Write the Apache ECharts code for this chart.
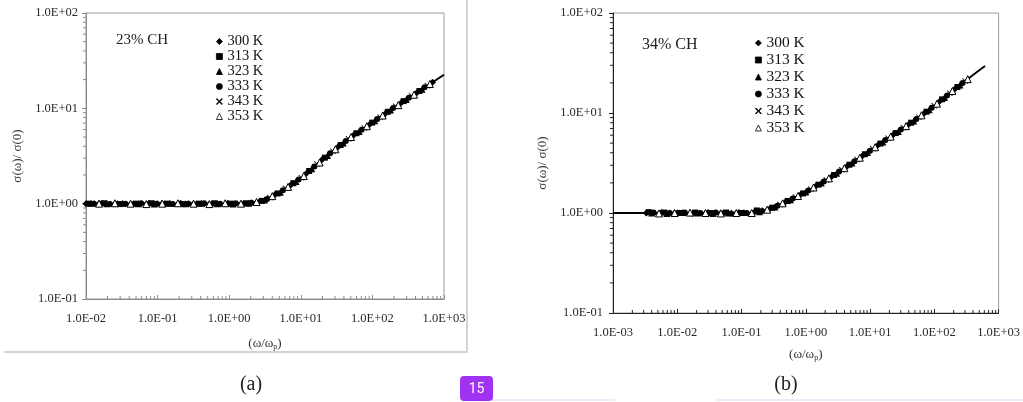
<!DOCTYPE html>
<html>
<head>
<meta charset="utf-8">
<script src="https://cdn.jsdelivr.net/npm/echarts@6.0.0/dist/echarts.min.js"></script>
<style>
  html, body { margin: 0; padding: 0; background: #fff; }
  #chart { width: 1023px; height: 402px; }
</style>
</head>
<body>
<div id="chart"></div>
<script>
// legend names (temperatures)
const tempNames = ['300 K', '313 K', '323 K', '333 K', '343 K', '353 K']

// panel (a): 23% CH, points [ω/ωp, σ(ω)/σ(0)]
const a300 = [[0.0100, 1.00], [0.0166, 1.01], [0.0275, 1.00], [0.0457, 0.99], [0.0759, 1.01], [0.126, 1.00], [0.209, 1.01], [0.347, 0.99], [0.575, 1.00], [0.955, 1.01], [1.58, 1.00], [2.63, 1.05], [4.37, 1.25], [7.24, 1.57], [12.0, 2.08], [19.9, 2.9], [33.1, 3.92], [55.0, 5.25], [91.2, 6.78], [151, 8.8], [251, 11.4], [417, 14.6], [692, 18.8]]
const a313 = [[0.0109, 1.00], [0.0181, 1.01], [0.0299, 0.99], [0.0498, 1.00], [0.0827, 1.01], [0.137, 1.00], [0.228, 0.99], [0.378, 1.00], [0.626, 1.01], [1.04, 1.00], [1.72, 1.01], [2.86, 1.07], [4.76, 1.28], [7.88, 1.64], [13.1, 2.2], [21.7, 3.04], [36.0, 4.12], [59.9, 5.48], [99.3, 7.08], [164, 9.2], [273, 11.9], [454, 15.2]]
const a323 = [[0.0118, 1.01], [0.0196, 1.00], [0.0325, 1.01], [0.0541, 1.00], [0.0898, 0.99], [0.149, 1.01], [0.247, 1.00], [0.411, 1.01], [0.680, 1.00], [1.13, 0.99], [1.87, 1.01], [3.11, 1.09], [5.17, 1.32], [8.57, 1.71], [14.2, 2.32], [23.6, 3.2], [39.2, 4.33], [65.1, 5.71], [108, 7.39], [179, 9.62], [297, 12.4], [493, 15.9]]
const a333 = [[0.0129, 1.00], [0.0214, 0.99], [0.0354, 1.00], [0.0589, 1.01], [0.0978, 1.00], [0.162, 0.99], [0.269, 1.00], [0.447, 1.01], [0.741, 1.00], [1.23, 1.01], [2.04, 1.02], [3.39, 1.12], [5.63, 1.38], [9.33, 1.79], [15.5, 2.45], [25.7, 3.37], [42.6, 4.55], [70.8, 5.96], [117, 7.71], [195, 10.07], [324, 12.9], [537, 16.6]]
const a343 = [[0.0140, 1.01], [0.0233, 1.00], [0.0386, 0.99], [0.0641, 1.00], [0.106, 1.01], [0.177, 1.00], [0.293, 1.01], [0.487, 1.00], [0.807, 0.99], [1.34, 1.00], [2.22, 1.03], [3.69, 1.16], [6.13, 1.45], [10.2, 1.87], [16.9, 2.6], [28.0, 3.55], [46.4, 4.79], [77.1, 6.22], [128, 8.07], [212, 10.5], [352, 13.5], [585, 17.3]]
const a353 = [[0.0152, 1.00], [0.0253, 1.01], [0.0419, 1.00], [0.0696, 0.99], [0.116, 1.00], [0.192, 1.01], [0.318, 1.00], [0.529, 0.99], [0.877, 1.01], [1.46, 1.00], [2.41, 1.04], [4.00, 1.2], [6.65, 1.5], [11.0, 1.95], [18.3, 2.7], [30.4, 3.72], [50.4, 5.0], [83.7, 6.5], [139, 8.4], [230, 10.8], [382, 13.9], [635, 18.0]]
const aFit = [[0.01, 1.0], [0.1, 1.0], [1, 1.0], [2, 1.02], [3, 1.08], [5, 1.3], [7, 1.55], [10, 1.85], [20, 2.9], [30, 3.7], [50, 5.0], [100, 7.1], [200, 10.2], [500, 16], [1000, 22.5]]

// panel (b): 34% CH
const b300 = [[0.0033, 1.00], [0.0057, 1.01], [0.0100, 1.00], [0.0174, 0.99], [0.0301, 1.01], [0.0523, 1.00], [0.0910, 1.01], [0.158, 1.02], [0.275, 1.10], [0.478, 1.28], [0.831, 1.53], [1.44, 1.86], [2.51, 2.31], [4.36, 2.92], [7.58, 3.72], [13.2, 4.75], [22.9, 6.05], [39.8, 7.69], [69.1, 9.9], [120, 13.0], [209, 17.4]]
const b313 = [[0.0036, 1.02], [0.0063, 1.01], [0.0109, 1.00], [0.0190, 1.01], [0.0330, 1.00], [0.0573, 1.01], [0.0997, 1.00], [0.173, 1.06], [0.301, 1.13], [0.524, 1.32], [0.911, 1.57], [1.58, 1.92], [2.75, 2.40], [4.78, 3.04], [8.31, 3.87], [14.5, 4.95], [25.1, 6.3], [43.6, 8.0], [75.7, 10.3], [132, 13.7], [229, 18.2]]
const b323 = [[0.0040, 1.00], [0.0069, 0.99], [0.0120, 1.01], [0.0208, 1.00], [0.0362, 0.99], [0.0629, 1.00], [0.109, 1.01], [0.190, 1.03], [0.331, 1.15], [0.575, 1.36], [0.999, 1.62], [1.74, 1.99], [3.02, 2.5], [5.24, 3.16], [9.11, 4.03], [15.8, 5.14], [27.5, 6.55], [47.8, 8.32], [83.1, 10.8], [144, 14.3], [251, 19.0]]
const b333 = [[0.0043, 1.01], [0.0076, 1.00], [0.0131, 1.01], [0.0228, 1.00], [0.0397, 1.01], [0.0690, 0.99], [0.120, 1.00], [0.208, 1.05], [0.363, 1.18], [0.630, 1.40], [1.10, 1.68], [1.91, 2.06], [3.31, 2.6], [5.75, 3.29], [10.0, 4.2], [17.4, 5.36], [30.2, 6.82], [52.5, 8.69], [91.1, 11.3], [158, 15.0], [275, 19.9]]
const b343 = [[0.0048, 1.00], [0.0083, 1.01], [0.0144, 0.99], [0.0250, 1.00], [0.0435, 1.01], [0.0756, 1.00], [0.131, 1.00], [0.228, 1.065], [0.397, 1.215], [0.691, 1.44], [1.20, 1.73], [2.09, 2.14], [3.63, 2.71], [6.30, 3.43], [11.0, 4.38], [19.1, 5.59], [33.1, 7.1], [57.5, 9.07], [99.9, 11.8], [174, 15.8], [302, 20.9]]
const b353 = [[0.0052, 0.99], [0.0091, 1.00], [0.0158, 1.01], [0.0275, 1.00], [0.0477, 0.99], [0.0829, 1.00], [0.144, 1.00], [0.251, 1.08], [0.436, 1.25], [0.758, 1.48], [1.32, 1.8], [2.29, 2.22], [3.98, 2.81], [6.92, 3.57], [12.0, 4.55], [20.9, 5.8], [36.3, 7.39], [63.1, 9.48], [110, 12.4], [191, 16.6], [331, 21.8]]
const bFit = [[0.001, 1.0], [0.01, 1.0], [0.1, 1.0], [0.18, 1.02], [0.3, 1.12], [0.5, 1.3], [1, 1.62], [2, 2.1], [5, 3.1], [10, 4.2], [20, 5.7], [50, 8.5], [100, 11.8], [200, 17], [400, 24], [615, 29.5]]

const chart = echarts.init(document.getElementById('chart'))

const SERIF = "'Liberation Serif', 'DejaVu Serif', serif"

// 1.0E+02 style tick labels
const expLabel = (v) => {
  const e = Math.round(Math.log10(v))
  return '1.0E' + (e < 0 ? '-' : '+') + String(Math.abs(e)).padStart(2, '0')
}

// 2..9 minor tick positions inside each decade
const minorValues = (lo, hi) => {
  const out = []
  for (let d = lo; d < hi; d++) {
    for (let k = 2; k <= 9; k++) out.push(k * Math.pow(10, d))
  }
  return out
}

const tickColorA = '#8a8a8a'
const tickColorB = '#222'

const minorTickSeries = (gridIndex, axis, values, fixed, color) => ({
  type: 'custom',
  xAxisIndex: gridIndex,
  yAxisIndex: gridIndex,
  silent: true,
  clip: false,
  z: 1,
  data: values.map(v => axis === 'x' ? [v, fixed] : [fixed, v]),
  renderItem: (params, api) => {
    const p = api.coord([api.value(0), api.value(1)])
    const shape = axis === 'x'
      ? { x1: p[0], y1: p[1], x2: p[0], y2: p[1] - 3 }
      : { x1: p[0], y1: p[1], x2: p[0] - 3, y2: p[1] }
    return { type: 'line', shape: shape, style: { stroke: color, lineWidth: 1 } }
  }
})

const symbols = {
  '300 K': { symbol: 'diamond', size: 7, fill: '#000' },
  '313 K': { symbol: 'rect', size: 6, fill: '#000' },
  '323 K': { symbol: 'triangle', size: 7, fill: '#000' },
  '333 K': { symbol: 'circle', size: 6, fill: '#000' },
  '343 K': { symbol: 'path://M0,1L1,0L5,4L9,0L10,1L6,5L10,9L9,10L5,6L1,10L0,9L4,5Z', size: 6, fill: '#000' },
  '353 K': { symbol: 'triangle', size: 7, fill: '#fff', border: '#000' }
}

const scatter = (name, data, gridIndex) => {
  const s = symbols[name]
  return {
    name: name,
    type: 'scatter',
    xAxisIndex: gridIndex,
    yAxisIndex: gridIndex,
    symbol: s.symbol,
    symbolSize: s.size,
    itemStyle: {
      color: s.fill,
      borderColor: s.border || s.fill,
      borderWidth: s.border ? 1 : 0,
      opacity: 1
    },
    z: 3,
    data: data
  }
}

const fitLine = (data, gridIndex) => ({
  type: 'line',
  xAxisIndex: gridIndex,
  yAxisIndex: gridIndex,
  showSymbol: false,
  smooth: 0.3,
  lineStyle: { color: '#000', width: 2 },
  z: 2,
  data: data
})

const xAxisBase = (min, max, color, gap, nameGap) => ({
  type: 'log',
  logBase: 10,
  min: min,
  max: max,
  name: '(ω/ω{s|p})',
  nameLocation: 'middle',
  nameGap: nameGap,
  nameTextStyle: {
    fontFamily: SERIF, fontSize: 13, color: '#333',
    rich: { s: { fontFamily: SERIF, fontSize: 8, color: '#333', padding: [7, 0, 0, 0] } }
  },
  axisLine: { show: true, lineStyle: { color: color, width: 1 } },
  axisTick: { show: true, inside: true, length: 4, lineStyle: { color: color } },
  axisLabel: { formatter: expLabel, margin: gap, fontFamily: SERIF, fontSize: 12.5, color: '#2a2a2a' },
  splitLine: { show: false }
})

const yAxisBase = (color, gap, nameGap) => ({
  type: 'log',
  logBase: 10,
  min: 0.1,
  max: 100,
  name: 'σ(ω)/ σ(0)',
  nameLocation: 'middle',
  nameGap: nameGap,
  nameTextStyle: { fontFamily: SERIF, fontSize: 13, color: '#333' },
  axisLine: { show: true, lineStyle: { color: color, width: 1 } },
  axisTick: { show: true, inside: false, length: 4, lineStyle: { color: color } },
  axisLabel: { formatter: expLabel, margin: gap, fontFamily: SERIF, fontSize: 12.5, color: '#2a2a2a' },
  splitLine: { show: false }
})

const legendBase = (left, top, fontSize, lineHeight) => ({
  orient: 'vertical',
  left: left,
  top: top,
  padding: 0,
  itemGap: 0,
  itemWidth: 6,
  itemHeight: 6,
  selectedMode: false,
  data: tempNames,
  itemStyle: { borderWidth: 0.8 },
  textStyle: { fontFamily: SERIF, fontSize: fontSize, lineHeight: lineHeight, color: '#111' }
})

const option = {
  animation: false,
  backgroundColor: '#fff',
  grid: [
    { left: 86, top: 13, width: 358, height: 286, show: true, borderColor: '#9a9a9a', borderWidth: 1 },
    { left: 613, top: 13, width: 386, height: 300, show: true, borderColor: '#9a9a9a', borderWidth: 1 }
  ],
  xAxis: [
    Object.assign(xAxisBase(0.01, 1000, tickColorA, 13, 37), { gridIndex: 0 }),
    Object.assign(xAxisBase(0.001, 1000, tickColorB, 13, 34), { gridIndex: 1 })
  ],
  yAxis: [
    Object.assign(yAxisBase(tickColorA, 8, 62), { gridIndex: 0 }),
    Object.assign(yAxisBase(tickColorB, 10, 64), { gridIndex: 1 })
  ],
  title: [
    { text: '23% CH', left: 116, top: 33, padding: 0, textStyle: { fontFamily: SERIF, fontSize: 15, fontWeight: 'normal', color: '#222' } },
    { text: '34% CH', left: 642, top: 37, padding: 0, textStyle: { fontFamily: SERIF, fontSize: 16, fontWeight: 'normal', color: '#222' } }
  ],
  legend: [
    legendBase(216, 34, 14.5, 14.5),
    legendBase(755, 34.5, 15.5, 17)
  ],
  graphic: [
    // frame around panel (a)
    { type: 'polyline', shape: { points: [[4, 352], [467, 352], [467, 0]] }, style: { stroke: '#d4d4d4', lineWidth: 2, fill: null } },
    { type: 'text', x: 251, y: 385, style: { text: '(a)', fontFamily: SERIF, fontSize: 20, fill: '#222', align: 'center', verticalAlign: 'middle' } },
    { type: 'text', x: 786, y: 385, style: { text: '(b)', fontFamily: SERIF, fontSize: 20, fill: '#222', align: 'center', verticalAlign: 'middle' } },
    { type: 'line', shape: { x1: 492, y1: 400, x2: 615, y2: 400 }, style: { stroke: '#e2d2f7', lineWidth: 1 } },
    { type: 'line', shape: { x1: 717, y1: 400, x2: 1023, y2: 400 }, style: { stroke: '#e2d2f7', lineWidth: 1 } },
    { type: 'rect', shape: { x: 460, y: 376, width: 33, height: 25, r: 4 }, style: { fill: '#a033f2' } },
    { type: 'text', x: 476.5, y: 389, style: { text: '15', fontFamily: 'Roboto, sans-serif', fontSize: 14, fill: '#fff', align: 'center', verticalAlign: 'middle' } }
  ],
  series: [
    minorTickSeries(0, 'x', minorValues(-2, 3), 0.1, tickColorA),
    minorTickSeries(0, 'y', minorValues(-1, 2), 0.01, tickColorA),
    minorTickSeries(1, 'x', minorValues(-3, 3), 0.1, tickColorB),
    minorTickSeries(1, 'y', minorValues(-1, 2), 0.001, tickColorB),
    fitLine(aFit, 0),
    fitLine(bFit, 1),
    scatter('300 K', a300, 0),
    scatter('313 K', a313, 0),
    scatter('323 K', a323, 0),
    scatter('333 K', a333, 0),
    scatter('343 K', a343, 0),
    scatter('353 K', a353, 0),
    scatter('300 K', b300, 1),
    scatter('313 K', b313, 1),
    scatter('323 K', b323, 1),
    scatter('333 K', b333, 1),
    scatter('343 K', b343, 1),
    scatter('353 K', b353, 1)
  ]
}

chart.setOption(option)
</script>
</body>
</html>
